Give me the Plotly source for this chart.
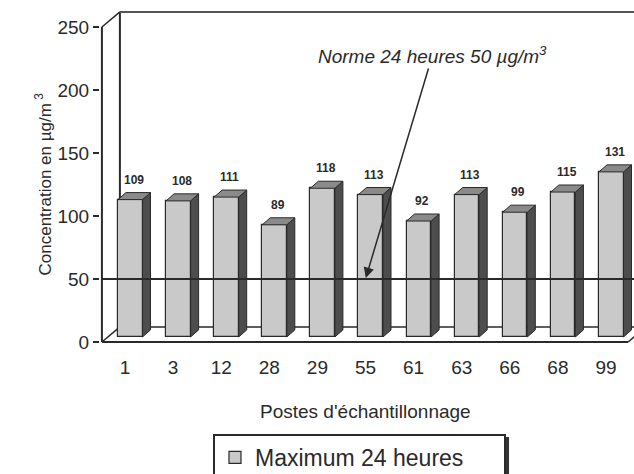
import plotly.graph_objects as go

# ---- data -------------------------------------------------------------
postes = ["1", "3", "12", "28", "29", "55", "61", "63", "66", "68", "99"]
maximum_24h = [109, 108, 111, 89, 118, 113, 92, 113, 99, 115, 131]
norme_24h = 50
y_ticks = [0, 50, 100, 150, 200, 250]
y_top = 250

# ---- pseudo-3D geometry (category units on x, µg/m3 on y) ------------
X_RANGE = [-0.52, 10.582]
Y_RANGE = [-4.76, 265.08]
XF = -0.48          # front-left corner of the frame
XE = 10.46          # front-right corner of the floor
WALL_DX, WALL_DY = 0.374, 12.0   # depth of the back wall
BAR_OFF, BAR_W = -0.146, 0.51    # front face of each bar
BAR_BASE = 4.0                   # bars stand slightly behind the front edge
BAR_DX, BAR_DY = 0.166, 5.6      # bar depth

FONT = "Liberation Sans, Arial, Helvetica, sans-serif"
INK = "#2a2a2a"
FRONT = "#c9c9c9"
SIDE = "#4d4d4d"
TOP = "#8a8a8a"

n = len(postes)
xs = list(range(n))

fig = go.Figure()

# front faces
fig.add_trace(go.Bar(
    x=xs, y=maximum_24h, base=BAR_BASE, width=BAR_W, offset=BAR_OFF,
    marker=dict(color=FRONT, line=dict(color=INK, width=1.2)),
    name="Maximum 24 heures", showlegend=True, hoverinfo="skip",
))

# side and top faces of the bars
side_x, side_y, top_x, top_y = [], [], [], []
for i, v in zip(xs, maximum_24h):
    xl = i + BAR_OFF
    xr = xl + BAR_W
    y0 = BAR_BASE
    y1 = BAR_BASE + v
    side_x += [xr, xr + BAR_DX, xr + BAR_DX, xr, xr, None]
    side_y += [y0, y0 + BAR_DY, y1 + BAR_DY, y1, y0, None]
    top_x += [xl, xl + BAR_DX, xr + BAR_DX, xr, xl, None]
    top_y += [y1, y1 + BAR_DY, y1 + BAR_DY, y1, y1, None]

fig.add_trace(go.Scatter(x=side_x, y=side_y, mode="lines", fill="toself",
                         fillcolor=SIDE, line=dict(color=INK, width=1),
                         showlegend=False, hoverinfo="skip"))
fig.add_trace(go.Scatter(x=top_x, y=top_y, mode="lines", fill="toself",
                         fillcolor=TOP, line=dict(color=INK, width=1),
                         showlegend=False, hoverinfo="skip"))

# ---- frame: front axis, floor and back wall ---------------------------
def seg(x0, y0, x1, y1, color=INK, width=2, layer="below"):
    fig.add_shape(type="line", xref="x", yref="y", x0=x0, y0=y0, x1=x1, y1=y1,
                  line=dict(color=color, width=width), layer=layer)

seg(XF, 0, XF, y_top)                                   # front vertical axis
seg(XF, 0, XE, 0)                                       # front floor edge
seg(XE, 0, XE + WALL_DX, WALL_DY, width=1.5)            # right floor corner
seg(XF, 0, XF + WALL_DX, WALL_DY, width=1.5)            # left floor corner
seg(XF + WALL_DX, WALL_DY, X_RANGE[1], WALL_DY, width=1.5)          # back floor edge
seg(XF + WALL_DX, WALL_DY, XF + WALL_DX, y_top + WALL_DY)           # back wall left
seg(XF, y_top, XF + WALL_DX, y_top + WALL_DY, width=1.5)            # top corner
seg(XF + WALL_DX, y_top + WALL_DY, X_RANGE[1], y_top + WALL_DY, color="#555555")

# 24-hour standard line, drawn over the bars
seg(XF, norme_24h, X_RANGE[1], norme_24h, width=2, layer="above")

# ---- value labels -----------------------------------------------------
for i, v in zip(xs, maximum_24h):
    fig.add_annotation(x=i + BAR_OFF + BAR_W / 2 + 0.07, y=BAR_BASE + v,
                       xref="x", yref="y", yshift=20, showarrow=False,
                       text=f"<b>{v}</b>",
                       font=dict(family=FONT, size=12, color=INK))

# ---- standard annotation with arrow -----------------------------------
fig.add_annotation(
    x=postes.index("55"), y=norme_24h, xref="x", yref="y",
    text="<i>Norme 24 heures 50 µg/m<sup>3</sup></i>",
    font=dict(family=FONT, size=19, color=INK),
    showarrow=True, arrowhead=2, arrowsize=1.4, arrowwidth=1.5,
    arrowcolor=INK, ax=67, ay=-224, standoff=1,
)

# ---- axis titles ------------------------------------------------------
fig.add_annotation(
    xref="paper", yref="y", x=0, y=125, xshift=-70, showarrow=False,
    textangle=-90, text="Concentration en µg/m<sup> 3</sup>",
    font=dict(family=FONT, size=17, color=INK),
)
fig.add_annotation(
    xref="paper", yref="paper", x=0.497, y=0, yshift=-76, showarrow=False,
    text="Postes d'échantillonnage",
    font=dict(family=FONT, size=19, color=INK),
)

# legend shadow
fig.add_shape(type="rect", xref="paper", yref="paper",
              x0=0.22, x1=0.766, y0=-0.40, y1=-0.262,
              fillcolor="#333333", line=dict(width=0), layer="below")

fig.update_layout(
    width=634, height=474,
    margin=dict(l=100, r=0, t=8, b=126, autoexpand=False),
    paper_bgcolor="white", plot_bgcolor="white",
    font=dict(family=FONT, color=INK),
    bargap=0,
    xaxis=dict(range=X_RANGE, tickvals=xs, ticktext=postes, ticks="",
               ticklabelstandoff=6,
               showgrid=False, zeroline=False, showline=False,
               tickfont=dict(family=FONT, size=19, color=INK)),
    yaxis=dict(range=Y_RANGE, tickvals=y_ticks, ticks="outside", ticklen=6,
               tickwidth=1.5, tickcolor=INK,
               showgrid=False, zeroline=False, showline=False,
               tickfont=dict(family=FONT, size=19, color=INK)),
    showlegend=True,
    legend=dict(x=0.2116, y=-0.253, xanchor="left", yanchor="top",
                orientation="h", entrywidth=244, entrywidthmode="pixels",
                bgcolor="white", bordercolor=INK,
                borderwidth=2, font=dict(family=FONT, size=23, color=INK)),
)

fig.write_html("out.html")
